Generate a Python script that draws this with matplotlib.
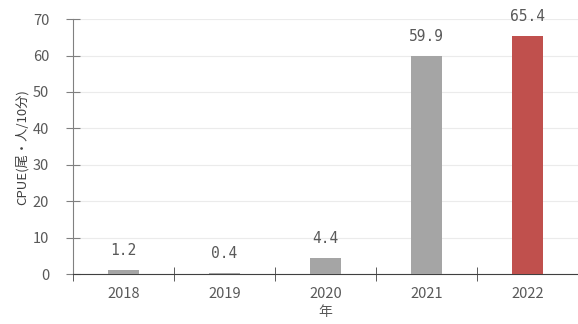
import matplotlib.pyplot as plt
import numpy as np

plt.rcParams['font.family'] = ['Noto Sans CJK JP', 'DejaVu Sans']

years = ['2018', '2019', '2020', '2021', '2022']
cpue = [1.2, 0.4, 4.4, 59.9, 65.4]
colors = ['#A5A5A5', '#A5A5A5', '#A5A5A5', '#A5A5A5', '#C0504D']

fig = plt.figure(figsize=(5.78, 3.24), dpi=100)
ax = fig.add_axes([0.126, 0.154, 0.874, 0.787])

x = np.arange(len(years))
bars = ax.bar(x, cpue, width=0.31, color=colors, zorder=3)
for xi, v in zip(x, cpue):
    ax.text(xi, v + 3.3, f'{v:.1f}', ha='center', va='bottom', fontsize=10.5,
            color='#595959', family='DejaVu Sans Mono')

ax.set_xlim(-0.5, 4.5)
ax.set_ylim(0, 70)
ax.set_yticks(range(0, 71, 10))
ax.set_xticks(x)
ax.set_xticklabels(years)
ax.set_xticks(np.arange(-0.5, 4.6, 1), minor=True)
ax.tick_params(axis='x', which='major', length=0, pad=9, labelsize=10.5)
ax.tick_params(axis='x', which='minor', length=10, direction='inout', color='#404040')
ax.tick_params(axis='y', length=10, direction='inout', color='#808080', pad=12, labelsize=10.5)
ax.tick_params(labelcolor='#595959')

ax.grid(axis='y', color='#EBEBEB', linewidth=0.8, zorder=0)
for s in ['top', 'right']:
    ax.spines[s].set_visible(False)
ax.spines['left'].set_color('#808080')
ax.spines['bottom'].set_color('#404040')

ax.set_ylabel('CPUE(尾・人/10分)', fontsize=9.5, color='#404040', labelpad=3)
ax.set_xlabel('年', fontsize=10, color='#595959', labelpad=3)

fig.savefig('out.png', dpi=100)
